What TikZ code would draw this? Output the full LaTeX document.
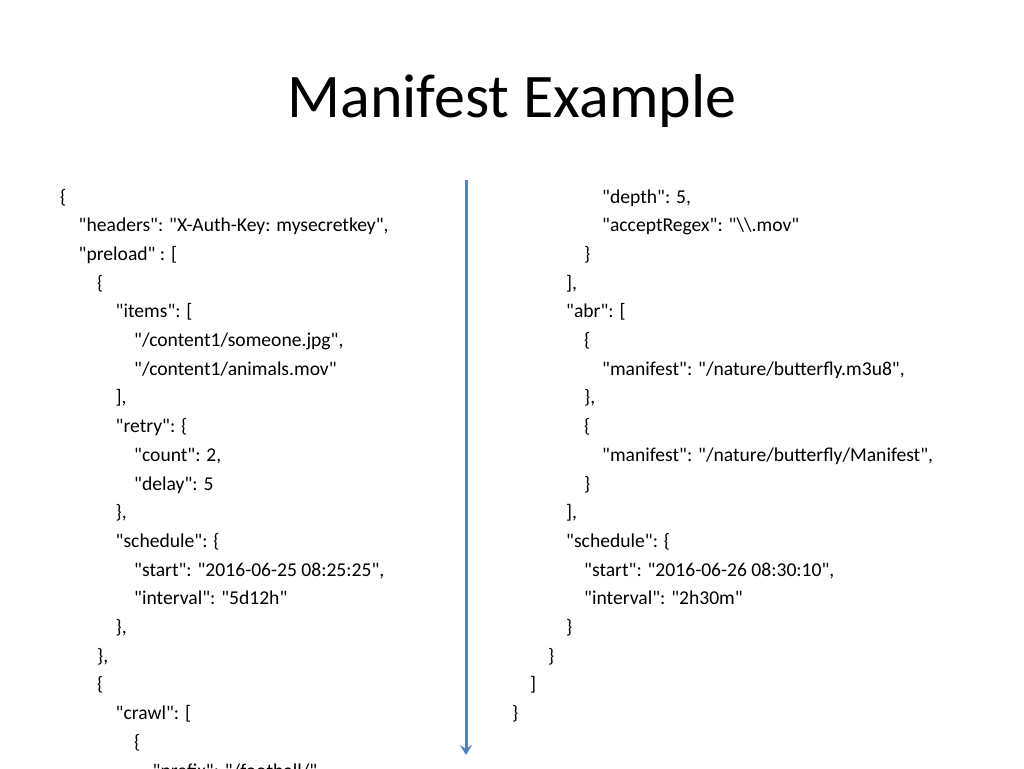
\documentclass[tikz,border=0pt]{standalone}
\usepackage{fontspec}
\usepackage{tikz}
\usetikzlibrary{arrows.meta}
\newfontfamily\jsonfont{Carlito}
\definecolor{arrowblue}{RGB}{79,129,189}
\tikzstyle{title}=[font=\jsonfont\fontsize{62}{70}\selectfont,anchor=base,inner sep=0pt]
\tikzstyle{code}=[font=\jsonfont\fontsize{19.6}{23}\selectfont,anchor=base west,inner sep=0pt]
\tikzstyle{flow} = [draw=arrowblue,line width=3pt,-{Stealth[length=10pt,width=12pt,inset=4pt]}]

\begin{document}
\begin{tikzpicture}[x=1pt,y=-1pt]
    \useasboundingbox (0,0) rectangle (1024,768);
    \clip (0,0) rectangle (1024,768);
    \fill[white] (0,0) rectangle (1024,768);
    % Title
    \node[title] (title) at (512,117) {Manifest Example};
    % Left column of the manifest
    \foreach \row/\lvl/\txt in {0/0/{\{}, 1/1/{"headers": "X-Auth-Key: mysecretkey",}, 2/1/{"preload" : [},
        3/2/{\{}, 4/3/{"items": [}, 5/4/{"/content1/someone.jpg",}, 6/4/{"/content1/animals.mov"},
        7/3/{],}, 8/3/{"retry": \{}, 9/4/{"count": 2,}, 10/4/{"delay": 5}, 11/3/{\},},
        12/3/{"schedule": \{}, 13/4/{"start": "2016-06-25 08:25:25",}, 14/4/{"interval": "5d12h"},
        15/3/{\},}, 16/2/{\},}, 17/2/{\{}, 18/3/{"crawl": [}, 19/4/{\{}, 20/5/{"prefix": "/football/"}}
        \node[code] (L\row) at (60+18.5*\lvl,203+28.7*\row) {\txt};
    % Right column of the manifest
    \foreach \row/\lvl/\txt in {0/5/{"depth": 5,}, 1/5/{"acceptRegex": "\textbackslash\textbackslash.mov"},
        2/4/{\}}, 3/3/{],}, 4/3/{"abr": [}, 5/4/{\{}, 6/5/{"manifest": "/nature/butterfly.m3u8",},
        7/4/{\},}, 8/4/{\{}, 9/5/{"manifest": "/nature/butterfly/Manifest",}, 10/4/{\}},
        11/3/{],}, 12/3/{"schedule": \{}, 13/4/{"start": "2016-06-26 08:30:10",},
        14/4/{"interval": "2h30m"}, 15/3/{\}}, 16/2/{\}}, 17/1/{]}, 18/0/{\}}}
        \node[code] (R\row) at (512+18*\lvl,203+28.7*\row) {\txt};
    % Divider arrow
    \coordinate (top) at (466,180);
    \coordinate (tip) at (466,755);
    \path[flow] (top) -- (tip);
\end{tikzpicture}
\end{document}
